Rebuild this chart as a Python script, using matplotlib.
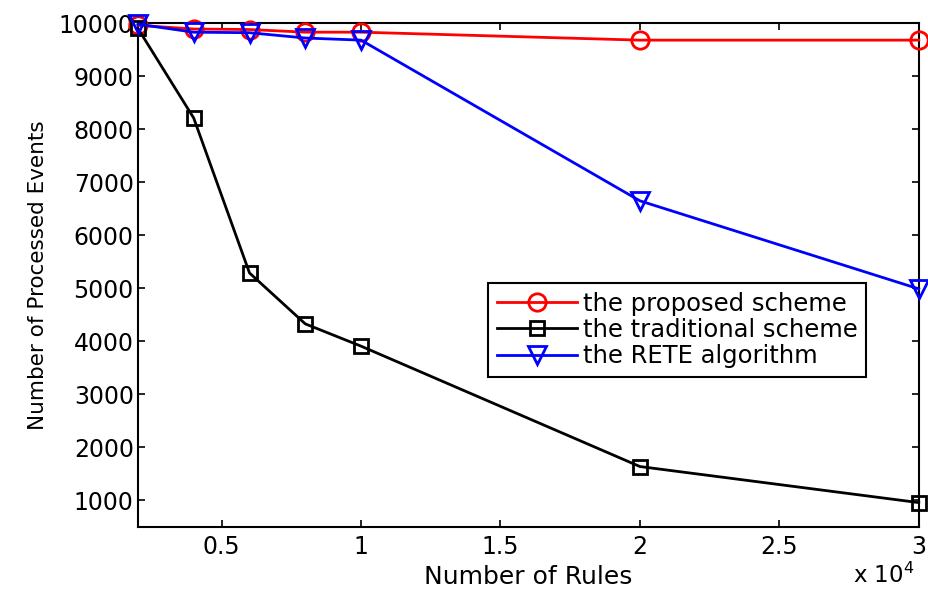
import matplotlib
matplotlib.use("Agg")
import matplotlib.pyplot as plt
from matplotlib.ticker import FuncFormatter

# Number of rules loaded into the engine
rules = [2000, 4000, 6000, 8000, 10000, 20000, 30000]

# Number of processed events for each approach
proposed = [9960, 9890, 9880, 9830, 9830, 9680, 9680]
traditional = [9900, 8210, 5290, 4330, 3910, 1640, 960]
rete = [9980, 9830, 9820, 9720, 9680, 6650, 4990]

series_labels = ["the proposed scheme", "the traditional scheme", "the RETE algorithm"]
y_ticks = [1000, 2000, 3000, 4000, 5000, 6000, 7000, 8000, 9000, 10000]
x_ticks = [5000, 10000, 15000, 20000, 25000, 30000]

plt.rcParams["font.family"] = ["DejaVu Sans"]

fig = plt.figure(figsize=(9.29, 5.94), dpi=100)
ax = fig.add_axes([0.1485, 0.1128, 0.8405, 0.8482])

common = dict(linewidth=2.0, markerfacecolor="none", markeredgewidth=2.0, clip_on=False, zorder=3)
ax.plot(rules, proposed, color="#ff0000", marker="o", markersize=12.5, label=series_labels[0], **common)
ax.plot(rules, traditional, color="black", marker="s", markersize=10.5, label=series_labels[1], **common)
ax.plot(rules, rete, color="#0000ff", marker="v", markersize=12.5, label=series_labels[2], **common)

ax.set_xlim(2000, 30000)
ax.set_ylim(500, 10000)
ax.set_xticks(x_ticks)
ax.set_yticks(y_ticks)
ax.xaxis.set_major_formatter(FuncFormatter(lambda v, p: f"{v / 1e4:g}"))

ax.tick_params(direction="in", top=True, right=True, length=5, width=1.2,
               labelsize=17, colors="black")
ax.tick_params(axis="y", pad=3)
ax.tick_params(axis="x", pad=6)
for s in ax.spines.values():
    s.set_linewidth(1.5)
    s.set_color("black")

ax.set_xlabel("Number of Rules", fontsize=18, labelpad=4)
ax.set_ylabel("Number of Processed Events", fontsize=15.5, labelpad=8)
fig.text(0.918, 0.010, "x 10$^{4}$", fontsize=16.5, ha="left", va="bottom")

leg = ax.legend(loc="upper left", bbox_to_anchor=(488 / 929, 1 - 283 / 594),
                bbox_transform=fig.transFigure, fontsize=17.5, frameon=True,
                fancybox=False, edgecolor="black", framealpha=1,
                handlelength=3.3, handletextpad=0.25, borderpad=0.35,
                labelspacing=0.1, borderaxespad=0)
leg.get_frame().set_linewidth(1.5)

fig.savefig("out.png", dpi=100)
